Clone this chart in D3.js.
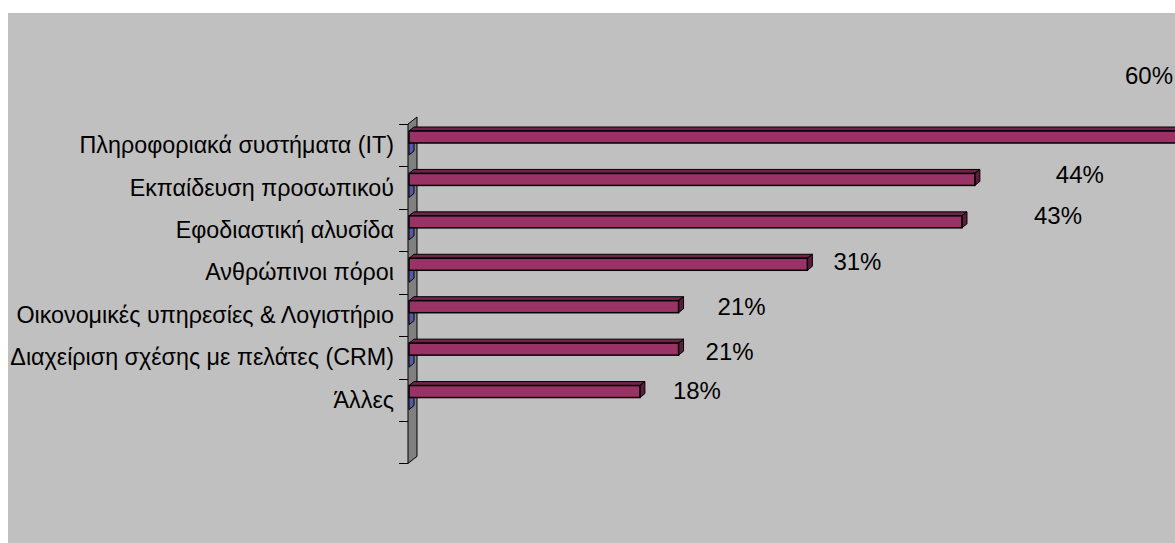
<!DOCTYPE html>
<html>
<head>
<meta charset="utf-8">
<script src="https://cdn.jsdelivr.net/npm/d3@7"></script>
<style>
  html, body { margin: 0; padding: 0; background: #ffffff; }
  svg { display: block; }
  text { font-family: "Liberation Sans", Arial, sans-serif; fill: #000; }
</style>
</head>
<body>
<svg id="chart" width="1175" height="543"></svg>
<script>
// Categories, top to bottom (the last slot is an empty category row)
const categories = [
  "Πληροφοριακά συστήματα (IT)",
  "Εκπαίδευση προσωπικού",
  "Εφοδιαστική αλυσίδα",
  "Ανθρώπινοι πόροι",
  "Οικονομικές υπηρεσίες & Λογιστήριο",
  "Διαχείριση σχέσης με πελάτες (CRM)",
  "Άλλες",
  ""
];
// Main series, percent
const shareValues = [60, 44, 43, 31, 21, 21, 18, null];
// Second series (empty / zero-length bars)
const secondValues = [0, 0, 0, 0, 0, 0, 0, null];
// Data label text
const valueLabels = ["60%", "44%", "43%", "31%", "21%", "21%", "18%", ""];
// Hand-placed label nudges [dx from bar end, dy from bar middle]
const labelNudge = [[-56, -53], [81, 4], [72, 2], [26, 6], [39, 8], [27, 11], [33, 7], [0, 0]];

const svg = d3.select("#chart");
const W = 1175, H = 543;

// chart area background
svg.append("rect").attr("x", 8).attr("y", 13).attr("width", W - 8).attr("height", H - 13)
  .attr("fill", "#c0c0c0");

const x0 = 408;
const x = d3.scaleLinear().domain([0, 60]).range([x0, x0 + 773]);
const y = d3.scaleBand().domain(d3.range(categories.length)).range([124, 463.4]).paddingInner(0).paddingOuter(0);

// depth of the side wall and of the bars
const wallDx = 9, wallDy = 7;
const barDx = 5, barDy = 4;
const barH = 12, barTop = 7;

// side wall (category axis)
const yTop = y.range()[0], yBot = y.range()[1];
svg.append("path")
  .attr("d", `M${x0},${yTop} L${x0 + wallDx},${yTop - wallDy} L${x0 + wallDx},${yBot - wallDy} L${x0},${yBot} Z`)
  .attr("fill", "#808080").attr("stroke", "#000").attr("stroke-width", 1);

// tick marks on band boundaries
const tickYs = d3.range(categories.length + 1).map(i => yTop + i * y.step());
svg.append("g").selectAll("line").data(tickYs).join("line")
  .attr("x1", x0 - 9).attr("x2", x0).attr("y1", d => Math.round(d) + 0.5).attr("y2", d => Math.round(d) + 0.5)
  .attr("stroke", "#000").attr("stroke-width", 1);

// draw a 3D horizontal bar
function bar3d(g, xs, xe, yt, colors) {
  const w = xe - xs;
  const p = g.append("g");
  p.append("path")
    .attr("d", `M${xs},${yt} L${xs + barDx},${yt - barDy} L${xe + barDx},${yt - barDy} L${xe},${yt} Z`)
    .attr("fill", colors.top).attr("stroke", "#000").attr("stroke-width", 1).attr("stroke-linejoin", "miter");
  p.append("path")
    .attr("d", `M${xe},${yt} L${xe + barDx},${yt - barDy} L${xe + barDx},${yt + barH - barDy} L${xe},${yt + barH} Z`)
    .attr("fill", colors.side).attr("stroke", "#000").attr("stroke-width", 1).attr("stroke-linejoin", "miter");
  if (w > 0) {
    p.append("rect").attr("x", xs).attr("y", yt).attr("width", w).attr("height", barH)
      .attr("fill", colors.front).attr("stroke", "#000").attr("stroke-width", 1.5);
  }
}

const blue = { front: "#6666cc", top: "#5a5aae", side: "#5858aa" };
const plum = { front: "#993366", top: "#6e2449", side: "#5a1d3c" };

const bars = svg.append("g");
categories.forEach((c, i) => {
  if (shareValues[i] == null) return;
  const by = y(i);
  // second series sits below the main bar
  bar3d(bars, x(0) + 1, x(secondValues[i]) + 1, by + barTop + barH, blue);
  bar3d(bars, x(0) + 1, x(shareValues[i]), by + barTop, plum);
});

// category labels
svg.append("g").selectAll("text").data(categories).join("text")
  .attr("x", 394).attr("y", (d, i) => y(i) + y.bandwidth() / 2)
  .attr("text-anchor", "end").attr("dominant-baseline", "central")
  .attr("font-size", 23.3).text(d => d);

// value labels
svg.append("g").selectAll("text").data(valueLabels).join("text")
  .attr("x", (d, i) => x(shareValues[i] || 0) + labelNudge[i][0])
  .attr("y", (d, i) => y(i) + barTop + barH / 2 + labelNudge[i][1])
  .attr("font-size", 24).text(d => d);
</script>
</body>
</html>
